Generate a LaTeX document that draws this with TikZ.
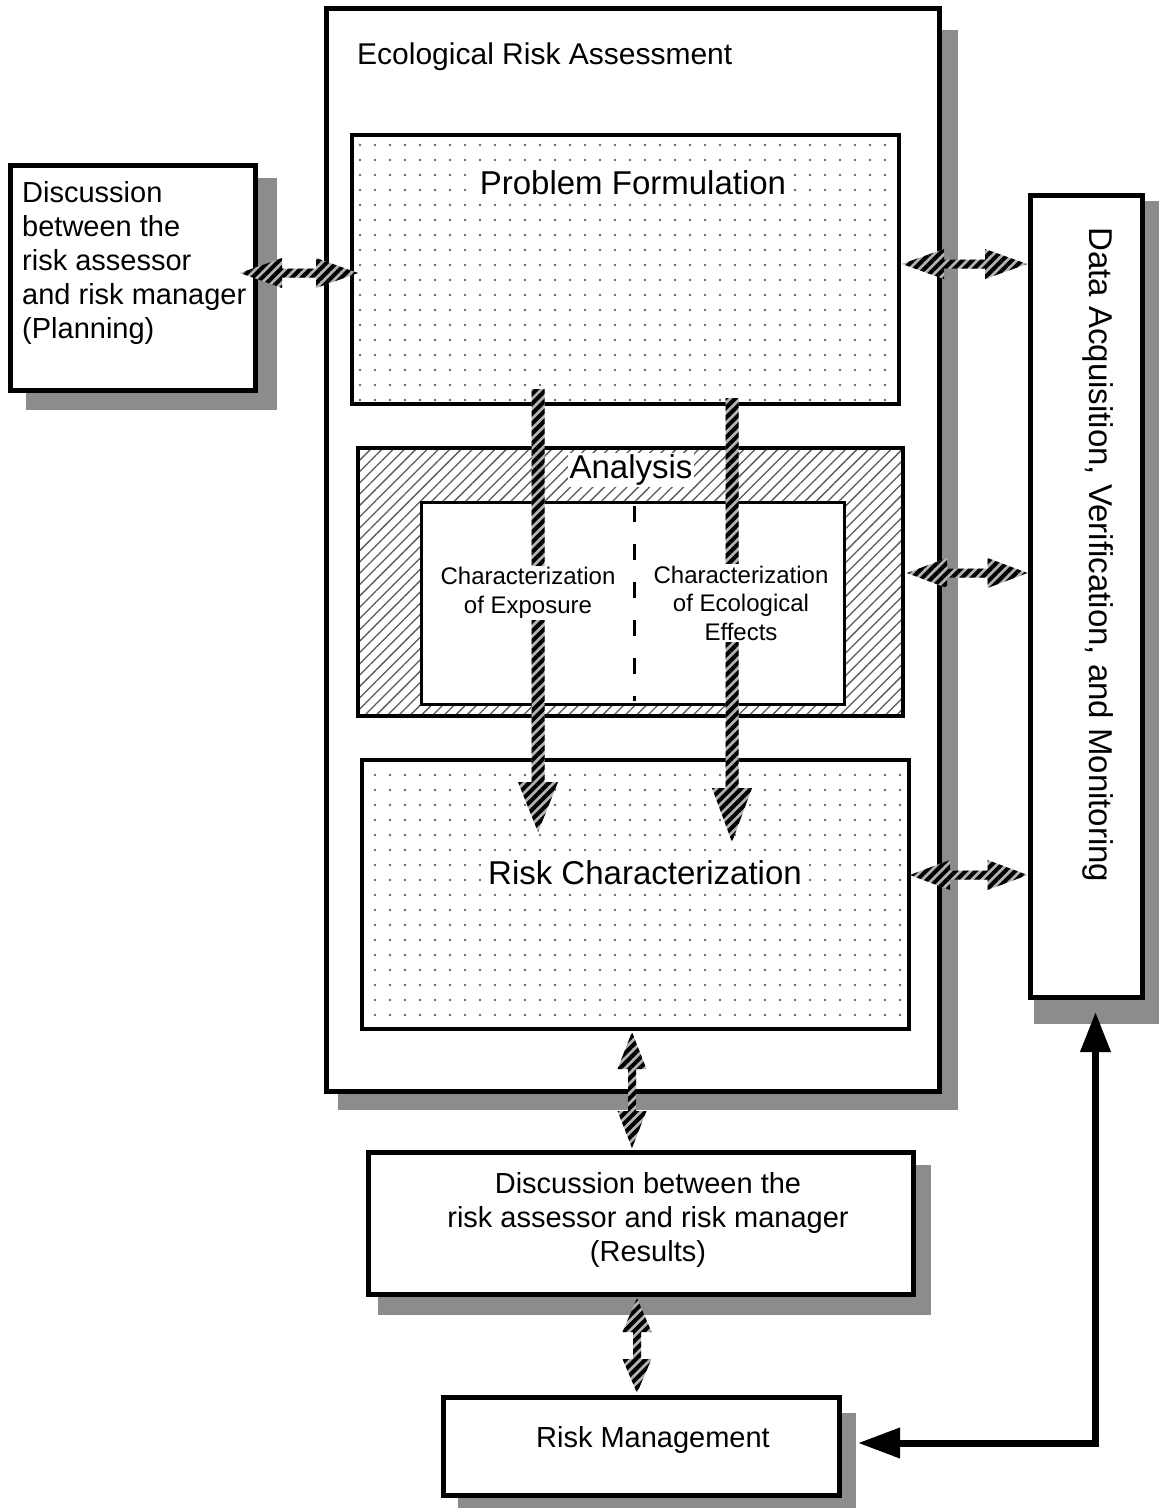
\documentclass[tikz,border=0pt]{standalone}
\usepackage{fontspec}
\setmainfont{Liberation Sans}
\usetikzlibrary{patterns.meta,arrows.meta,calc}
\newcommand\fstitle{\fontsize{33}{40}\selectfont}
\newcommand\fsera{\fontsize{30}{36}\selectfont}
\newcommand\fsmed{\fontsize{29}{34}\selectfont}
\newcommand\fssmall{\fontsize{24}{28.5}\selectfont}
\tikzset{
  shadowfill/.style={fill=black!45, draw=none},
  box/.style={rectangle, draw=black, line width=5pt, fill=white, inner sep=0pt, outer sep=0pt},
  dotbox/.style={rectangle, draw=black, line width=4.5pt, inner sep=0pt, outer sep=0pt,
    preaction={fill=white}, pattern={Dots[radius=1.3pt,distance=15pt]}, pattern color=black!60},
  hatchbox/.style={rectangle, draw=black, line width=4.5pt, inner sep=0pt, outer sep=0pt,
    preaction={fill=white}, pattern={Lines[angle=45,distance=8pt,line width=1.3pt]}, pattern color=black!65},
  fatstripe/.style={preaction={fill=black!30}, pattern={Lines[angle=45,distance=7pt,line width=4pt]}, pattern color=black},
  blackarrow/.style={line width=7pt, line join=miter, draw=black},
}
\newcommand\hdarrow[5]{\path[fatstripe] let \p1=#1, \p2=#2 in (\x1,\y1) -- (\x1+#3,\y1+#4) -- (\x1+#3,\y1+#5) -- (\x2-#3,\y1+#5) -- (\x2-#3,\y1+#4) -- (\x2,\y1) -- (\x2-#3,\y1-#4) -- (\x2-#3,\y1-#5) -- (\x1+#3,\y1-#5) -- (\x1+#3,\y1-#4) -- cycle;}
\newcommand\vdarrow[5]{\path[fatstripe] let \p1=#1, \p2=#2 in (\x1,\y1) -- (\x1+#4,\y1-#3) -- (\x1+#5,\y1-#3) -- (\x1+#5,\y2+#3) -- (\x1+#4,\y2+#3) -- (\x1,\y2) -- (\x1-#4,\y2+#3) -- (\x1-#5,\y2+#3) -- (\x1-#5,\y1-#3) -- (\x1-#4,\y1-#3) -- cycle;}
\newcommand\vsarrow[5]{\path[fatstripe] let \p1=#1, \p2=#2 in (\x1-#5,\y1) -- (\x1+#5,\y1) -- (\x1+#5,\y2+#3) -- (\x1+#4,\y2+#3) -- (\x1,\y2) -- (\x1-#4,\y2+#3) -- (\x1-#5,\y2+#3) -- cycle;}
\begin{document}
\begin{tikzpicture}[x=1pt,y=-1pt]
\useasboundingbox (0,0) rectangle (1159,1510);
% shadows
\fill[shadowfill] (26,178) rectangle (277,410);
\fill[shadowfill] (338,30) rectangle (958,1110);
\fill[shadowfill] (1034,201) rectangle (1159,1024);
\fill[shadowfill] (378,1165) rectangle (931,1315);
\fill[shadowfill] (458,1413) rectangle (856,1508);
% boxes
\node[box, minimum width=245pt, minimum height=225pt] (plan) at (133,278) {};
\node[box, line width=5.5pt, minimum width=613pt, minimum height=1083pt] (era) at (633,550) {};
\node[box, minimum width=112pt, minimum height=802pt] (data) at (1086.5,596.5) {};
\node[box, minimum width=545pt, minimum height=142pt] (res) at (641,1223.5) {};
\node[box, minimum width=396pt, minimum height=98pt] (rm) at (641.5,1446.5) {};
\node[dotbox, minimum width=547pt, minimum height=269pt] (pf) at (625.5,269.5) {};
\node[hatchbox, minimum width=545pt, minimum height=268pt] (an) at (630.5,582) {};
\node[box, line width=3.5pt, minimum width=423pt, minimum height=202pt] (inner) at (633,603.5) {};
\node[dotbox, minimum width=547pt, minimum height=269pt] (rc) at (635.5,894.5) {};
% dashed divider
\draw[line width=3pt, dash pattern=on 16pt off 22pt] ($(inner.north)+(1,3)$) -- ($(inner.south)+(1,-4)$);
% striped arrows
\hdarrow{($(plan.east)+(-15.5,-5)$)}{($(pf.west)+(6,0)$)}{42pt}{15pt}{4.5pt}
\hdarrow{($(pf.east)+(3,-5.5)$)}{($(data.west)+(-3.5,0)$)}{42pt}{15pt}{4.5pt}
\hdarrow{($(an.east)+(4,-9)$)}{($(data.west)+(-3,0)$)}{40pt}{15pt}{4.5pt}
\hdarrow{($(rc.east)+(1,-19.5)$)}{($(data.west)+(-3,0)$)}{40pt}{15pt}{4.5pt}
\vsarrow{($(pf.south)+(-87.5,-15)$)}{($(rc.north)+(0,72)$)}{50pt}{20pt}{6.5pt}
\vsarrow{($(pf.south)+(106.5,-6)$)}{($(rc.north)+(0,82)$)}{54pt}{20pt}{6.5pt}
\vdarrow{($(rc.south)+(-3.5,3)$)}{($(res.north)+(0,-4.5)$)}{37pt}{14.5pt}{4pt}
\vdarrow{($(res.south)+(-4,3.5)$)}{($(rm.north)+(0,-4.5)$)}{34pt}{14.5pt}{4pt}
% black arrow
\coordinate (h1) at ($(rm.east)+(18.5,-3.5)$);
\coordinate (h2) at ($(data.south)+(9,14.5)$);
\draw[blackarrow, {Triangle[length=42pt,width=29pt]}-{Triangle[length=40pt,width=29pt]}] (h1) -- (h1 -| h2) -- (h2);
% texts
\node[anchor=west, font=\fsera, inner sep=0pt] (eratxt) at (357,57) {Ecological Risk Assessment};
\node[font=\fstitle, fill=white, inner sep=7pt] (pftxt) at (633,183) {Problem Formulation};
\node[font=\fstitle, fill=white, inner sep=2pt] (antxt) at (631,470) {Analysis};
\node[font=\fssmall, align=center, fill=white, inner sep=2pt] (exptxt) at (528,593) {Characterization\\of Exposure};
\node[font=\fssmall, align=center, fill=white, inner sep=2pt] (efftxt) at (741,603) {Characterization\\of Ecological\\Effects};
\node[font=\fstitle, fill=white, inner sep=7pt] (rctxt) at (645,873) {Risk Characterization};
\node[font=\fstitle, rotate=-90] (datatxt) at (1098,555) {Data Acquisition, Verification, and Monitoring};
\node[font=\fsmed, align=left, anchor=west, inner sep=0pt] (plantxt) at (22,263) {Discussion\\between the\\risk assessor\\and risk manager\\(Planning)};
\node[font=\fsmed, align=center] (restxt) at (648,1220) {Discussion between the\\risk assessor and risk manager\\(Results)};
\node[font=\fsmed] (rmtxt) at (653,1440) {Risk Management};
\end{tikzpicture}
\end{document}
